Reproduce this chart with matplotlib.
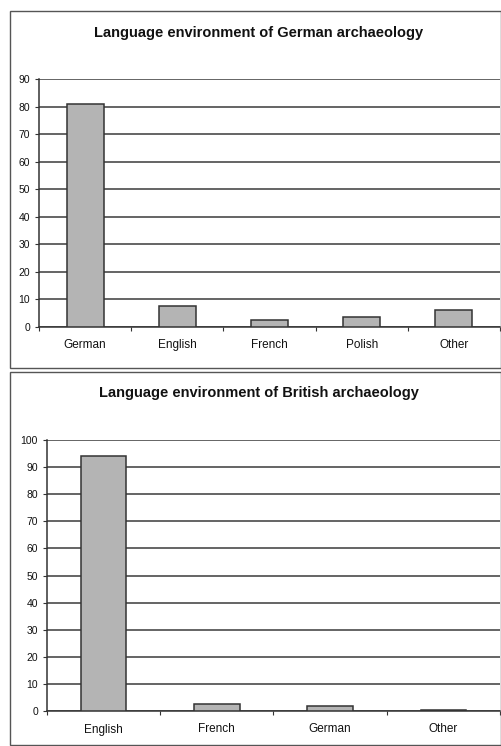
import numpy as np
import matplotlib
matplotlib.use("Agg")
from matplotlib import pyplot as plt
from matplotlib.patches import Rectangle

plt.rcParams['font.family'] = ['Liberation Sans', 'DejaVu Sans']

german_langs = ["German", "English", "French", "Polish", "Other"]
german_values = [81, 7.5, 2.5, 3.5, 6]
british_langs = ["English", "French", "German", "Other"]
british_values = [94, 2.5, 2, 0.5]

W, H = 502, 746
fig = plt.figure(figsize=(W / 100, H / 100), dpi=100)


def px_rect(x0, y0, x1, y1):
    # pixel box (top-left origin) -> figure fraction [left, bottom, width, height]
    return [x0 / W, 1 - y1 / H, (x1 - x0) / W, (y1 - y0) / H]


def panel(box, axbox, title, title_y, cats, vals, ymax):
    r = px_rect(*box)
    fig.patches.append(Rectangle((r[0], r[1]), r[2], r[3], transform=fig.transFigure,
                                 fill=False, edgecolor='#555555', linewidth=1.0))
    fig.text(259 / W, 1 - title_y / H, title, ha='center', va='center',
             fontsize=10.5, fontweight='bold', color='#111111')
    ax = fig.add_axes(px_rect(*axbox))
    n = len(cats)
    x = np.arange(n)
    ax.bar(x, vals, width=0.4, color='#b4b4b4', edgecolor='#333333', linewidth=1.1, zorder=3)
    ax.set_xlim(-0.5, n - 0.5)
    ax.set_ylim(0, ymax)
    ax.set_yticks(np.arange(0, ymax + 1, 10))
    ax.yaxis.grid(True, color='#3a3a3a', linewidth=1.1, zorder=0)
    ax.set_xticks(np.arange(-0.5, n, 1.0))
    ax.set_xticklabels([])
    ax.set_xticks(x, minor=True)
    ax.set_xticklabels(cats, minor=True)
    ax.tick_params(axis='x', which='major', length=3, color='#333333')
    ax.tick_params(axis='x', which='minor', length=0, pad=9, labelsize=8.5, labelcolor='#111111')
    ax.tick_params(axis='y', length=3, labelsize=7.5, labelcolor='#111111', color='#333333')
    for s in ['top', 'right']:
        ax.spines[s].set_visible(False)
    for s in ['left', 'bottom']:
        ax.spines[s].set_color('#333333')
        ax.spines[s].set_linewidth(1.1)
    return ax


panel((10, 11, 501, 368), (39, 79, 500, 327),
      "Language environment of German archaeology", 33,
      german_langs, german_values, 90)
panel((10, 372, 501, 745), (47, 440, 500, 711),
      "Language environment of British archaeology", 393,
      british_langs, british_values, 100)

fig.savefig("out.png", dpi=100)
